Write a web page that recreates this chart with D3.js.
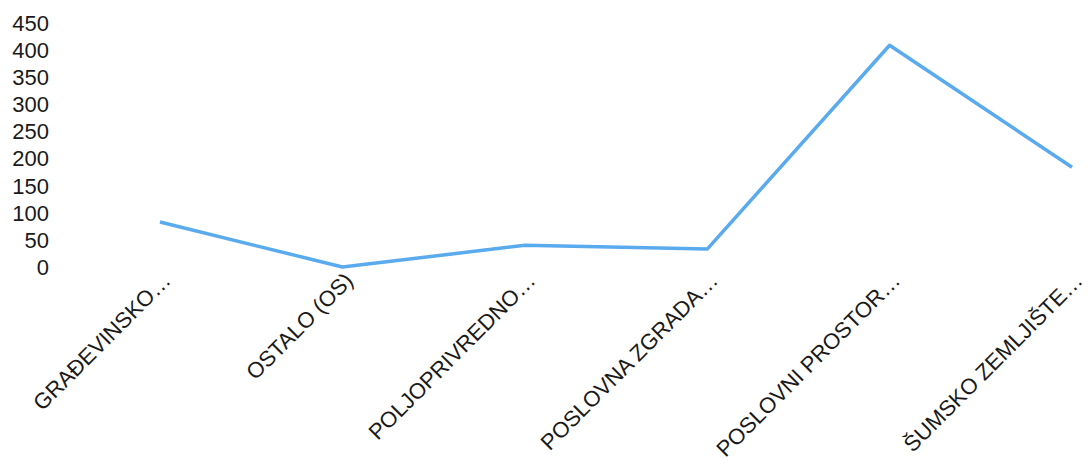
<!DOCTYPE html>
<html>
<head>
<meta charset="utf-8">
<script src="https://cdn.jsdelivr.net/npm/d3@7"></script>
<style>
  body { margin: 0; background: #fff; }
  text { font-family: "Liberation Sans", Arial, sans-serif; fill: #1a1a1a; }
</style>
</head>
<body>
<div id="chart"></div>
<script>
// -------- Data --------
const categories = [
  'GRAĐEVINSKO…',
  'OSTALO (OS)',
  'POLJOPRIVREDNO…',
  'POSLOVNA ZGRADA…',
  'POSLOVNI PROSTOR…',
  'ŠUMSKO ZEMLJIŠTE…'
];
const values = [83, 0, 40, 33, 409, 184];
const yTicks = [0, 50, 100, 150, 200, 250, 300, 350, 400, 450];

// -------- Dimensions --------
const dims = { width: 1092, height: 464 };

const svg = d3.select('#chart')
  .append('svg')
  .attr('width', dims.width)
  .attr('height', dims.height);

// -------- Scales --------
const x = d3.scalePoint()
  .domain(categories)
  .range([160, 1072]);

const y = d3.scaleLinear()
  .domain([0, 450])
  .range([267, 23]);

// -------- Y axis (labels only) --------
svg.append('g')
  .selectAll('text')
  .data(yTicks)
  .join('text')
    .attr('x', 49)
    .attr('y', d => y(d))
    .attr('dy', '0.36em')
    .attr('text-anchor', 'end')
    .style('font-size', '22px')
    .text(d => d);

// -------- X labels (slanted) --------
svg.append('g')
  .selectAll('text')
  .data(categories)
  .join('text')
    .attr('text-anchor', 'end')
    .attr('transform', d => `translate(${x(d) + 12},282) rotate(-45)`)
    .style('font-size', '22px')
    .text(d => d);

// -------- Line --------
const line = d3.line()
  .x((d, i) => x(categories[i]))
  .y(d => y(d));

svg.append('path')
  .datum(values)
  .attr('fill', 'none')
  .attr('stroke', '#5aaaee')
  .attr('stroke-width', 3.5)
  .attr('stroke-linejoin', 'round')
  .attr('d', line);
</script>
</body>
</html>
